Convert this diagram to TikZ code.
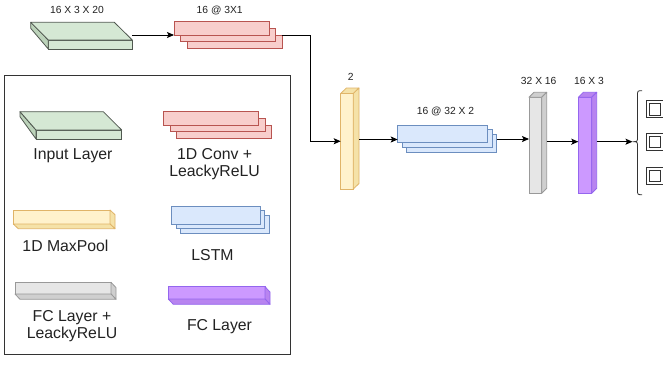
\documentclass[tikz,border=0pt]{standalone}
\usepackage{fontspec}
\setmainfont{Liberation Sans}
\usetikzlibrary{calc,arrows.meta}
\definecolor{gfill}{HTML}{D5E8D4}
\definecolor{gside}{HTML}{BCD3BA}
\definecolor{gline}{HTML}{505850}
\definecolor{rfill}{HTML}{F8CECC}
\definecolor{rline}{HTML}{B85450}
\definecolor{yfill}{HTML}{FFF2CC}
\definecolor{yside}{HTML}{F5E2A8}
\definecolor{yline}{HTML}{E0B468}
\definecolor{bfill}{HTML}{DAE8FC}
\definecolor{bline}{HTML}{6C8EBF}
\definecolor{kfill}{HTML}{E6E6E6}
\definecolor{kside}{HTML}{CFCFCF}
\definecolor{kline}{HTML}{999999}
\definecolor{pfill}{HTML}{CC99FF}
\definecolor{pside}{HTML}{B884F0}
\definecolor{pline}{HTML}{9466EE}
\definecolor{txt}{HTML}{222222}
\definecolor{legline}{HTML}{333333}
\begin{document}
\begin{tikzpicture}[x=1pt,y=-1pt,
  face/.style={draw, inner sep=0pt, outer sep=0pt, line width=0.8pt, anchor=north west},
  inbox/.style={face, fill=gfill, draw=gline},
  inside/.style={fill=gside, draw=gline, line width=0.8pt, line join=round},
  intop/.style={fill=gfill, draw=gline, line width=0.8pt, line join=round},
  convbox/.style={face, fill=rfill, draw=rline},
  lstmbox/.style={face, fill=bfill, draw=bline},
  mpbox/.style={face, fill=yfill, draw=yline},
  mpside/.style={fill=yside, draw=yline, line width=0.8pt, line join=round},
  fcbox/.style={face, fill=kfill, draw=kline},
  fcside/.style={fill=kside, draw=kline, line width=0.8pt, line join=round},
  pubox/.style={face, fill=pfill, draw=pline},
  puside/.style={fill=pside, draw=pline, line width=0.8pt, line join=round},
  outbox/.style={face, draw=legline, fill=white},
  lbl/.style={font=\fontsize{10.3}{12}\selectfont, inner sep=0pt, text=txt},
  leg/.style={font=\fontsize{15.8}{17.6}\selectfont, inner sep=0pt, align=center, text=txt},
  conn/.style={line width=0.9pt, draw=black, -{Stealth[length=7pt,width=6pt,inset=1.5pt]}},
]
\clip (0,0) rectangle (663,367);
\fill[white] (0,0) rectangle (663,367);

% ---------- legend frame ----------
\node[face, draw=legline, line width=0.9pt, minimum width=286pt, minimum height=278.3pt] (legend) at (4,75.7) {};

% ---------- main flow: input ----------
\node[inbox, minimum width=84pt, minimum height=9pt] (in) at (48.3,40) {};
\draw[inside] (in.north west) -- ++(-17.6,-17.7) -- ++(0,6) -- (in.south west) -- cycle;
\draw[intop] (in.north west) -- ++(-17.6,-17.7) -- ++(83.6,0) -- (in.north east) -- cycle;
\node[lbl] (t1) at (77,10.3) {16 X 3 X 20};

% ---------- conv ----------
\node[convbox, minimum width=95pt, minimum height=13.3pt] (c3) at (187.3,35) {};
\node[convbox, minimum width=95pt, minimum height=13.3pt] (c2) at (180.7,28.3) {};
\node[convbox, minimum width=95pt, minimum height=13.3pt] (c1) at (174,21.7) {};
\node[lbl] (t2) at (219.7,10.3) {16 @ 3X1};

% ---------- maxpool ----------
\node[mpbox, minimum width=12.6pt, minimum height=95.5pt] (mp) at (340.7,93.5) {};
\draw[mpside] (mp.north west) -- ++(5.7,-5.5) -- ++(12.6,0) -- (mp.north east) -- cycle;
\draw[mpside] (mp.north east) -- ++(5.7,-5.5) -- ++(0,95.5) -- (mp.south east) -- cycle;
\node[lbl] (t3) at (350.7,76.7) {2};

% ---------- LSTM ----------
\node[lstmbox, minimum width=90pt, minimum height=17.7pt] (l3) at (406.7,134.5) {};
\node[lstmbox, minimum width=90pt, minimum height=17.7pt] (l2) at (402.2,129.8) {};
\node[lstmbox, minimum width=90pt, minimum height=17.7pt] (l1) at (397.7,125) {};
\node[lbl] (t4) at (445.5,111.7) {16 @ 32 X 2};

% ---------- FC + LeakyReLU ----------
\node[fcbox, minimum width=12.7pt, minimum height=96pt] (fc) at (529,97.3) {};
\draw[fcside] (fc.north west) -- ++(5,-5) -- ++(12.7,0) -- (fc.north east) -- cycle;
\draw[fcside] (fc.north east) -- ++(5,-5) -- ++(0,96) -- (fc.south east) -- cycle;
\node[lbl] (t5) at (538.7,80.7) {32 X 16};

% ---------- FC ----------
\node[pubox, minimum width=13.4pt, minimum height=96pt] (pu) at (578.3,97.3) {};
\draw[puside] (pu.north west) -- ++(5,-5) -- ++(13.4,0) -- (pu.north east) -- cycle;
\draw[puside] (pu.north east) -- ++(5,-5) -- ++(0,96) -- (pu.south east) -- cycle;
\node[lbl] (t6) at (589,80.7) {16 X 3};

% ---------- brace and outputs ----------
\coordinate (bt) at (632.5,141.7);
\draw[legline, line width=0.8pt] ($(bt)+(9.5,-51)$) .. controls ($(bt)+(5,-51)$) .. ($(bt)+(5,-46)$)
  -- ($(bt)+(5,-5)$) .. controls ($(bt)+(5,0)$) .. (bt)
  .. controls ($(bt)+(5,0)$) .. ($(bt)+(5,5)$)
  -- ($(bt)+(5,48)$) .. controls ($(bt)+(5,53)$) .. ($(bt)+(9.5,53)$);
\node[outbox, minimum width=24pt, minimum height=16.6pt] (o1) at (646,100.7) {};
\node[outbox, minimum width=10.7pt, minimum height=11.7pt] (i1) at (649.3,103.3) {};
\node[outbox, minimum width=24pt, minimum height=16.6pt] (o2) at (646,133.3) {};
\node[outbox, minimum width=10.7pt, minimum height=11.7pt] (i2) at (649.3,136) {};
\node[outbox, minimum width=24pt, minimum height=16.6pt] (o3) at (646,167.3) {};
\node[outbox, minimum width=10.7pt, minimum height=11.7pt] (i3) at (649.3,170) {};

% ---------- connectors ----------
\draw[conn] (in.east |- c1.south west) -- (c1.south west);
\draw[conn] (c3.north east) -- ++(28.4,0) |- (mp.west);
\coordinate (mpo) at ($(mp.east)+(5.7,-1.75)$);
\draw[conn] (mpo) -- (mpo -| l1.west);
\coordinate (lo) at ($(l3.north east)+(0,4.5)$);
\draw[conn] (lo) -- (lo -| fc.west);
\coordinate (fo) at ($(fc.east)+(5,-3.6)$);
\draw[conn] (fo) -- (fo -| pu.west);
\coordinate (po) at ($(pu.east)+(5,-3.6)$);
\draw[conn] (po) -- (bt);

% ---------- legend items ----------
\node[inbox, minimum width=85.7pt, minimum height=9pt] (lin) at (36,130) {};
\draw[inside] (lin.north west) -- ++(-16,-18.3) -- ++(0,5) -- (lin.south west) -- cycle;
\draw[intop] (lin.north west) -- ++(-16,-18.3) -- ++(83.3,0) -- (lin.north east) -- cycle;
\node[leg] (lt1) at (73,155.3) {Input Layer};

\node[convbox, minimum width=95pt, minimum height=13.3pt] (lc3) at (176.7,125) {};
\node[convbox, minimum width=95pt, minimum height=13.3pt] (lc2) at (170,118.3) {};
\node[convbox, minimum width=95pt, minimum height=13.3pt] (lc1) at (163.3,111.7) {};
\node[leg] (lt2) at (214.6,164) {1D Conv +\\LeackyReLU};

\node[mpbox, minimum width=96.7pt, minimum height=14pt] (lmp) at (13.3,210) {};
\draw[mpside] (lmp.north east) -- ++(5,4.7) -- ++(0,14) -- (lmp.south east) -- cycle;
\draw[mpside] (lmp.south west) -- ++(5,4.7) -- ++(96.7,0) -- (lmp.south east) -- cycle;
\node[leg] (lt3) at (65.5,246) {1D MaxPool};

\node[lstmbox, minimum width=88.3pt, minimum height=18pt] (ll3) at (180.7,215.3) {};
\node[lstmbox, minimum width=88.3pt, minimum height=18pt] (ll2) at (176.2,210.5) {};
\node[lstmbox, minimum width=88.3pt, minimum height=18pt] (ll1) at (171.7,206) {};
\node[leg] (lt4) at (212.5,255) {LSTM};

\node[fcbox, minimum width=96pt, minimum height=11.7pt] (lfc) at (15,282.3) {};
\draw[fcside] (lfc.north east) -- ++(5,5.3) -- ++(0,11.7) -- (lfc.south east) -- cycle;
\draw[fcside] (lfc.south west) -- ++(5,5.3) -- ++(96,0) -- (lfc.south east) -- cycle;
\node[leg] (lt5) at (72,326.2) {FC Layer +\\LeackyReLU};

\node[pubox, minimum width=96.7pt, minimum height=12.3pt] (lpu) at (168.3,286.7) {};
\draw[puside] (lpu.north east) -- ++(5,5.3) -- ++(0,12.3) -- (lpu.south east) -- cycle;
\draw[puside] (lpu.south west) -- ++(5,5.3) -- ++(96.7,0) -- (lpu.south east) -- cycle;
\node[leg] (lt6) at (219.5,326.7) {FC Layer};
\end{tikzpicture}
\end{document}
